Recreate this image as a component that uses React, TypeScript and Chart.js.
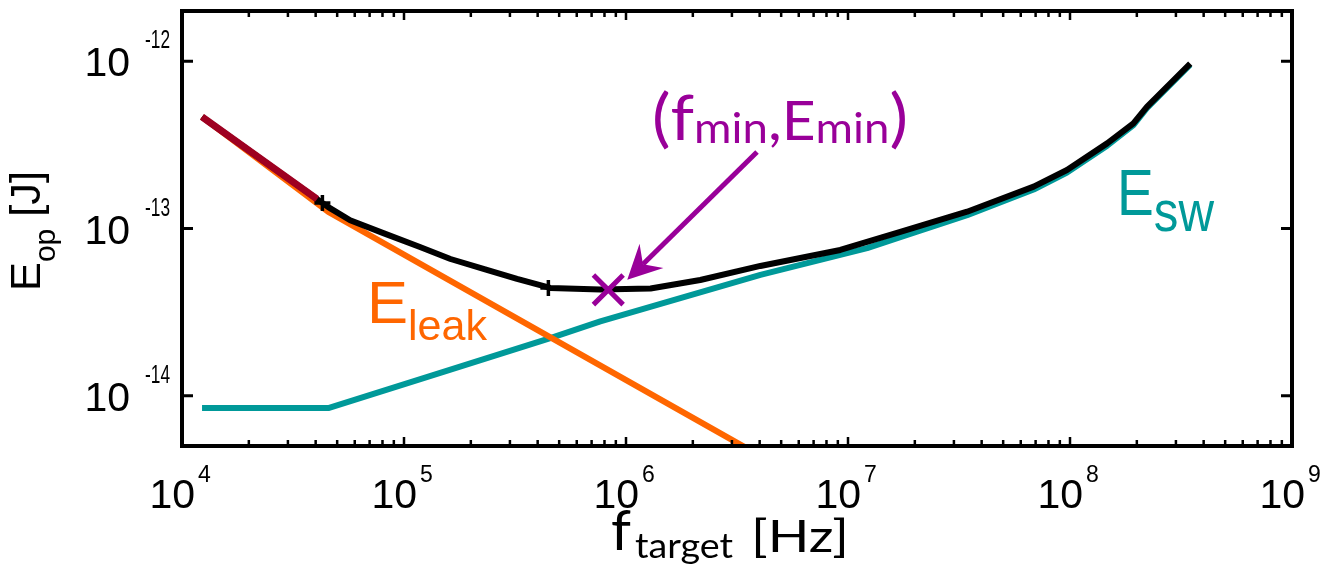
import React, { useEffect, useRef } from "react";
import { Chart, registerables } from "chart.js";

Chart.register(...registerables);

// Total operating energy E_op versus target frequency
const F_OP = [1.231e4, 4.56e4, 5.72e4, 8.07e4, 1.18e5, 1.62e5, 2.32e5, 3.23e5, 4.56e5, 7.66e5, 1.29e6, 2.16e6, 4.03e6, 9.23e6, 1.72e7, 3.44e7, 6.86e7, 9.69e7, 1.47e8, 1.93e8, 2.22e8, 3.48e8];
const E_OP = [4.65e-13, 1.343e-13, 1.12e-13, 9.38e-14, 7.75e-14, 6.57e-14, 5.69e-14, 4.99e-14, 4.41e-14, 4.32e-14, 4.38e-14, 4.92e-14, 5.97e-14, 7.44e-14, 9.53e-14, 1.26e-13, 1.78e-13, 2.24e-13, 3.23e-13, 4.25e-13, 5.34e-13, 9.7e-13];

// Switching energy E_sw
const F_SW = [1.231e4, 4.56e4, 1.62e5, 4.56e5, 7.66e5, 4.03e6, 1.22e7, 1.72e7, 3.44e7, 6.86e7, 9.69e7, 1.47e8, 1.93e8, 2.22e8, 3.48e8];
const E_SW = [8.43e-15, 8.43e-15, 1.43e-14, 2.21e-14, 2.78e-14, 5.28e-14, 7.64e-14, 8.89e-14, 1.2e-13, 1.71e-13, 2.16e-13, 3.13e-13, 4.15e-13, 5.25e-13, 9.57e-13];

// Leakage energy E_leak
const F_LEAK = [1.231e4, 4.56e4, 3.4e6];
const E_LEAK = [4.65e-13, 1.256e-13, 4.95e-15];

// Low-frequency segment at nominal supply
const F_NOM = [1.231e4, 4.06e4];
const E_NOM = [4.65e-13, 1.5e-13];

// Region boundaries marked on the total curve
const F_MARK = [4.29e4, 4.47e5];
const E_MARK = [1.42e-13, 4.41e-14];

// Energy minimum
const F_MIN = [8.32e5];
const E_MIN = [4.3e-14];

// Axis decades
const X_DECADES = [4, 5, 6, 7, 8, 9];
const Y_DECADES = [-12, -13, -14];

const X_MIN = 1e4;
const X_MAX = 1e9;
const Y_MIN = 5e-15;
const Y_MAX = 2e-12;

const BLACK = "#000000";
const TEAL = "#009999";
const ORANGE = "#FF6600";
const DARKRED = "#9E0021";
const PURPLE = "#990099";

const SANS = "'Liberation Sans', Arial, sans-serif";
const HUMAN = "Lato, 'Open Sans', sans-serif";

const pts = (xs: number[], ys: number[]) => xs.map((x, i) => ({ x, y: ys[i] }));

type Run = { t: string; font: string; dy?: number };

// Draws a sequence of text runs left to right, optionally squeezed to a width
function drawRuns(ctx: CanvasRenderingContext2D, runs: Run[], x: number, y: number, color: string, width?: number) {
  ctx.save();
  ctx.fillStyle = color;
  ctx.textAlign = "left";
  ctx.textBaseline = "alphabetic";
  let total = 0;
  const ws = runs.map((r) => {
    ctx.font = r.font;
    const w = ctx.measureText(r.t).width;
    total += w;
    return w;
  });
  const sx = width ? width / total : 1;
  ctx.translate(x, y);
  ctx.scale(sx, 1);
  let cx = 0;
  runs.forEach((r, i) => {
    ctx.font = r.font;
    ctx.fillText(r.t, cx, r.dy || 0);
    cx += ws[i];
  });
  ctx.restore();
}

const framePlugin = {
  id: "frame",
  afterDraw(chart: any) {
    const ctx: CanvasRenderingContext2D = chart.ctx;
    const { left: L, right: R, top: T, bottom: B } = chart.chartArea;
    const xs = chart.scales.x;
    const ys = chart.scales.y;

    ctx.save();
    ctx.strokeStyle = BLACK;
    ctx.lineCap = "butt";

    // inward ticks on the y axes
    ctx.lineWidth = 3;
    Y_DECADES.forEach((d) => {
      const y = ys.getPixelForValue(Math.pow(10, d));
      ctx.beginPath();
      ctx.moveTo(L, y);
      ctx.lineTo(L + 11, y);
      ctx.moveTo(R - 11, y);
      ctx.lineTo(R, y);
      ctx.stroke();
    });

    // inward major and minor ticks on the x axes
    ctx.lineWidth = 2.5;
    X_DECADES.forEach((d) => {
      const ms = d === 9 ? [1] : [1, 2, 3, 4, 5, 6, 7, 8, 9];
      ms.forEach((m) => {
        const x = xs.getPixelForValue(m * Math.pow(10, d));
        const len = m === 1 ? 9 : 6;
        ctx.beginPath();
        ctx.moveTo(x, B);
        ctx.lineTo(x, B - len);
        ctx.moveTo(x, T);
        ctx.lineTo(x, T + len);
        ctx.stroke();
      });
    });

    // axis box
    ctx.lineWidth = 4;
    ctx.strokeRect(L, T, R - L, B - T);
    ctx.restore();

    // y tick labels 10^n
    Y_DECADES.forEach((d) => {
      const y = ys.getPixelForValue(Math.pow(10, d));
      ctx.save();
      ctx.fillStyle = BLACK;
      ctx.font = `41px ${SANS}`;
      ctx.textAlign = "right";
      ctx.textBaseline = "alphabetic";
      ctx.fillText("10", 130, y + 15);
      ctx.restore();
      drawRuns(ctx, [{ t: String(d), font: `25px ${SANS}` }], 145, y - 13, BLACK, 25);
    });

    // x tick labels 10^n
    X_DECADES.forEach((d) => {
      const x = xs.getPixelForValue(Math.pow(10, d));
      ctx.save();
      ctx.fillStyle = BLACK;
      ctx.font = `41px ${SANS}`;
      ctx.textAlign = "right";
      ctx.textBaseline = "alphabetic";
      ctx.fillText("10", x + 13, 508);
      ctx.restore();
      drawRuns(ctx, [{ t: String(d), font: `23px ${SANS}` }], x + 16, 482, BLACK);
    });

    // x axis title
    drawRuns(ctx, [{ t: "f", font: `57px ${HUMAN}` }], 611, 550, BLACK);
    drawRuns(ctx, [{ t: "target", font: `35px ${HUMAN}` }], 635, 558, BLACK, 98);
    drawRuns(ctx, [{ t: "[Hz]", font: `45px ${HUMAN}` }], 751, 552, BLACK, 98);

    // y axis title, rotated
    ctx.save();
    ctx.translate(40, 291);
    ctx.rotate(-Math.PI / 2);
    drawRuns(
      ctx,
      [
        { t: "E", font: `42px ${SANS}` },
        { t: "op", font: `29px ${SANS}`, dy: 15 },
        { t: " [J]", font: `42px ${SANS}` },
      ],
      0,
      0,
      BLACK,
      120
    );
    ctx.restore();

    // curve labels
    drawRuns(
      ctx,
      [
        { t: "E", font: `60px ${SANS}` },
        { t: "leak", font: `42px ${SANS}`, dy: 17 },
      ],
      367,
      323,
      ORANGE,
      120
    );
    drawRuns(
      ctx,
      [
        { t: "E", font: `65px ${SANS}` },
        { t: "sw", font: `58px ${SANS}`, dy: 16 },
      ],
      1117,
      215,
      TEAL,
      97
    );

    // minimum annotation
    drawRuns(
      ctx,
      [
        { t: "(", font: `64px ${HUMAN}` },
        { t: "f", font: `62px ${HUMAN}` },
        { t: "min", font: `42px ${HUMAN}`, dy: 3 },
        { t: ",", font: `56px ${HUMAN}` },
        { t: "E", font: `54px ${HUMAN}` },
        { t: "min", font: `42px ${HUMAN}`, dy: 3 },
        { t: ")", font: `64px ${HUMAN}` },
      ],
      652,
      140,
      PURPLE,
      256
    );

    // arrow pointing at the minimum
    const tip = { x: xs.getPixelForValue(F_MIN[0]) + 19, y: ys.getPixelForValue(E_MIN[0]) - 10 };
    const tail = { x: 757, y: 152 };
    const dx = tip.x - tail.x;
    const dy = tip.y - tail.y;
    const len = Math.hypot(dx, dy);
    const ux = dx / len;
    const uy = dy / len;
    const nx = -uy;
    const ny = ux;
    const headLen = 34;
    const headHalf = 17;
    const notch = 22;
    const base = { x: tip.x - ux * headLen, y: tip.y - uy * headLen };
    const nPt = { x: tip.x - ux * notch, y: tip.y - uy * notch };
    ctx.save();
    ctx.strokeStyle = PURPLE;
    ctx.fillStyle = PURPLE;
    ctx.lineWidth = 5;
    ctx.beginPath();
    ctx.moveTo(tail.x, tail.y);
    ctx.lineTo(nPt.x, nPt.y);
    ctx.stroke();
    ctx.beginPath();
    ctx.moveTo(tip.x, tip.y);
    ctx.lineTo(base.x + nx * headHalf, base.y + ny * headHalf);
    ctx.lineTo(nPt.x, nPt.y);
    ctx.lineTo(base.x - nx * headHalf, base.y - ny * headHalf);
    ctx.closePath();
    ctx.fill();
    ctx.restore();
  },
};

export default function App() {
  const ref = useRef<HTMLCanvasElement | null>(null);

  useEffect(() => {
    if (!ref.current) return;
    const line = (data: any, color: string, width: number, order: number) => ({
      data,
      borderColor: color,
      backgroundColor: color,
      borderWidth: width,
      pointRadius: 0,
      tension: 0,
      fill: false,
      borderJoinStyle: "round",
      borderCapStyle: "butt",
      clip: 0,
      order,
    });
    const chart = new Chart(ref.current, {
      type: "line",
      data: {
        datasets: [
          {
            data: pts(F_MIN, E_MIN),
            showLine: false,
            pointStyle: "crossRot",
            pointRadius: 21,
            pointBorderWidth: 5,
            pointBorderColor: PURPLE,
            borderColor: PURPLE,
            clip: false,
            order: 0,
          } as any,
          {
            data: pts(F_MARK, E_MARK),
            showLine: false,
            pointStyle: "cross",
            pointRadius: 8,
            pointBorderWidth: 3.5,
            pointBorderColor: BLACK,
            borderColor: BLACK,
            order: 1,
          } as any,
          line(pts(F_NOM, E_NOM), DARKRED, 7, 2),
          line(pts(F_OP, E_OP), BLACK, 6, 3),
          line(pts(F_LEAK, E_LEAK), ORANGE, 6, 4),
          line(pts(F_SW, E_SW), TEAL, 6, 5),
        ],
      },
      options: {
        responsive: false,
        animation: false,
        devicePixelRatio: 1,
        events: [],
        layout: { autoPadding: false, padding: { left: 182, right: 33, top: 11, bottom: 124 } },
        plugins: { legend: { display: false }, tooltip: { enabled: false } },
        scales: {
          x: { type: "logarithmic", min: X_MIN, max: X_MAX, display: false },
          y: { type: "logarithmic", min: Y_MIN, max: Y_MAX, display: false },
        },
      } as any,
      plugins: [framePlugin],
    });
    return () => chart.destroy();
  }, []);

  return (
    <div style={{ position: "absolute", left: 0, top: 0, width: 1325, height: 570, background: "#fff" }}>
      <canvas ref={ref} width={1325} height={570} style={{ display: "block" }} />
    </div>
  );
}
